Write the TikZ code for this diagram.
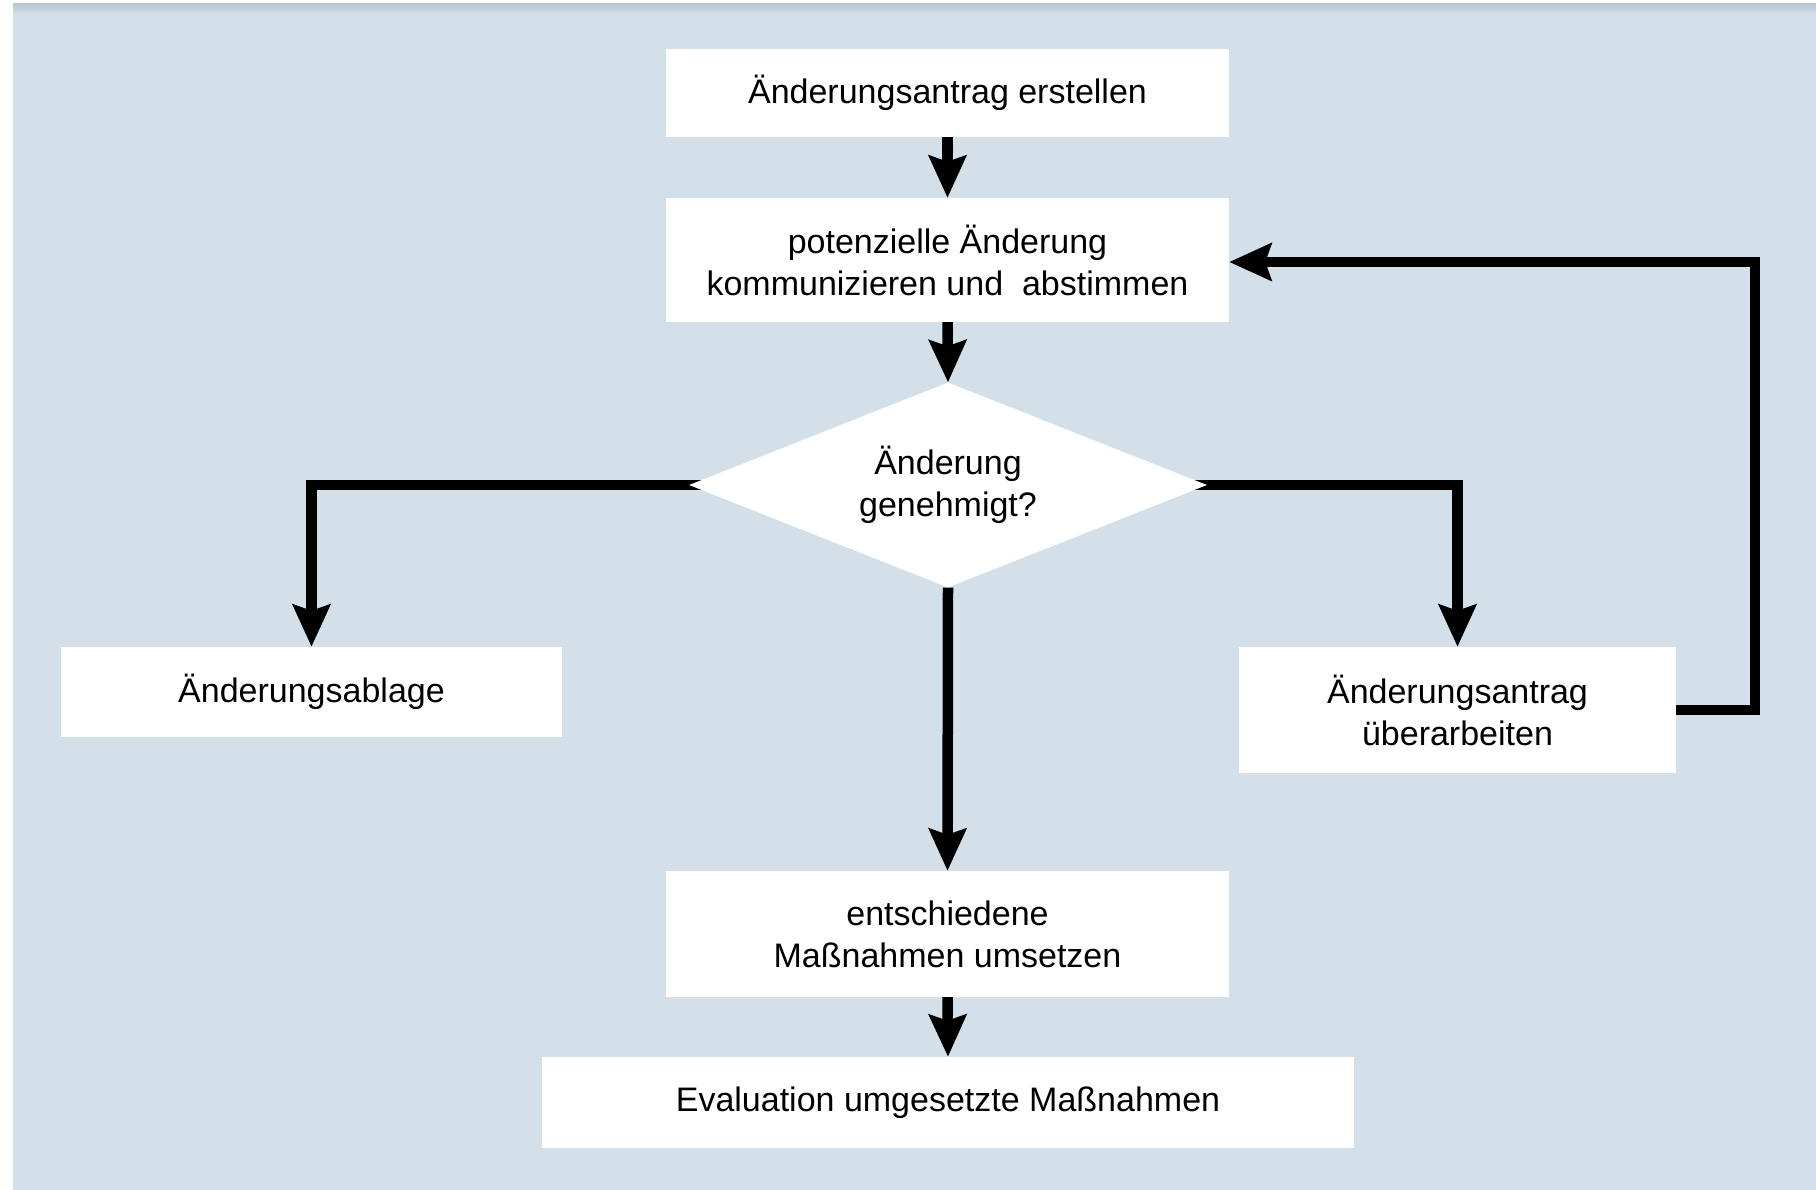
\documentclass[tikz,border=0pt]{standalone}
\usepackage{fontspec}
\setmainfont{Liberation Sans}
\usetikzlibrary{arrows.meta,shapes.geometric}
\definecolor{panel}{RGB}{212,224,233}
\definecolor{panelrim}{RGB}{186,198,207}
\pgfdeclarelayer{bg}
\pgfdeclarelayer{links}
\pgfsetlayers{bg,links,main}
\begin{document}
\begin{tikzpicture}[x=1pt,y=-1pt,
  box/.style={fill=white, draw=none, inner sep=0pt, align=center,
    font=\fontsize{34}{42}\selectfont},
  decision/.style={box, diamond, aspect=2.53},
  arr/.style={line width=10.5pt,
    -{Stealth[length=42pt,width=37pt,inset=6pt]}},
]
\useasboundingbox (0,0) rectangle (1816,1190);

% panel behind the chart
\begin{pgfonlayer}{bg}
  \fill[white] (0,0) rectangle (1816,1190);
  \fill[panel] (13,4) rectangle (1816,1190);
  \shade[top color=panelrim, bottom color=panel] (13,4) rectangle (1816,14);
\end{pgfonlayer}

% process steps
\node[box, minimum width=563pt, minimum height=88pt] (create) at (947.5,93)
  {Änderungsantrag erstellen};
\node[box, minimum width=563pt, minimum height=124pt] (discuss) at (947.5,260)
  {potenzielle Änderung\\kommunizieren und\ \ abstimmen};
\node[decision, minimum width=518pt, minimum height=205pt] (approved) at (948,485)
  {Änderung\\genehmigt?};
\node[box, minimum width=501pt, minimum height=90pt] (archive) at (311.5,692)
  {Änderungsablage};
\node[box, minimum width=437pt, minimum height=126pt] (revise) at (1457.5,710)
  {Änderungsantrag\\überarbeiten};
\node[box, minimum width=563pt, minimum height=126pt] (apply) at (947.5,934)
  {entschiedene\\Maßnahmen umsetzen};
\node[box, minimum width=812pt, minimum height=91pt] (evaluate) at (948,1102.5)
  {Evaluation umgesetzte Maßnahmen};

\coordinate (loop) at (1755,262);

% connectors
\begin{pgfonlayer}{links}
  \draw[arr] (create.south) -- (discuss.north);
  \draw[arr] (discuss.south) -- (approved.north);
  \draw[arr] (approved.center) -| (archive.north);
  \draw[arr] (approved.center) -| (revise.north);
  \draw[arr] (approved.south) -- (apply.north);
  \draw[arr] (apply.south) -- (evaluate.north);
  \draw[arr] (revise.east) -| (loop) -- (discuss.east |- loop);
\end{pgfonlayer}
\end{tikzpicture}
\end{document}
